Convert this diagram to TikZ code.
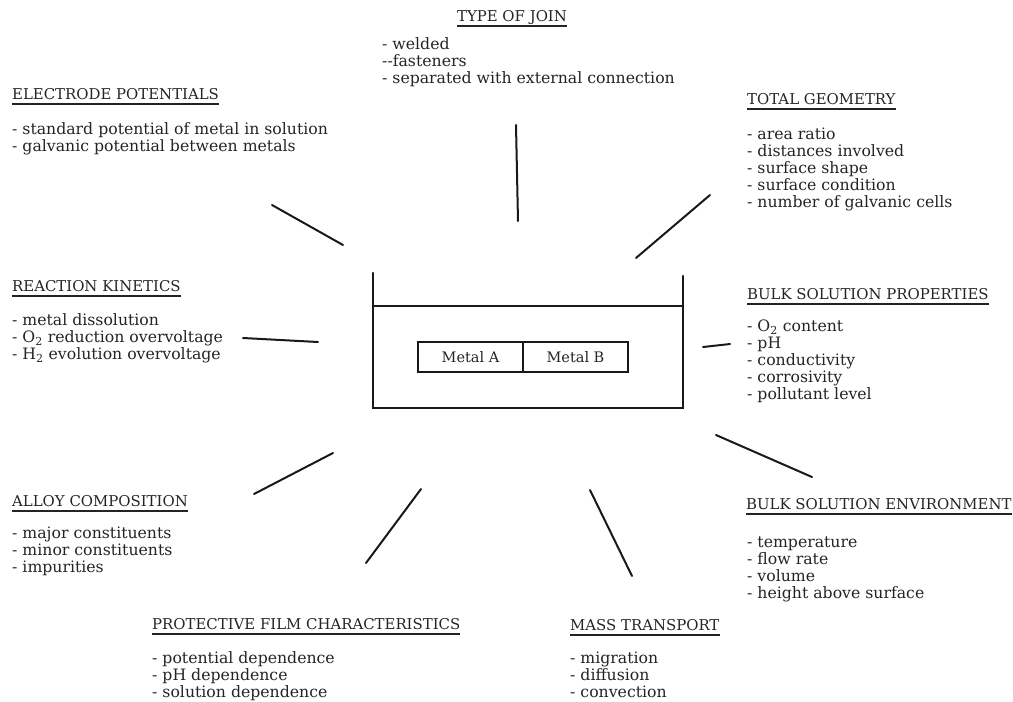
\documentclass[tikz,border=0pt]{standalone}
\usepackage{fontspec}
\setmainfont{DejaVu Serif}
\usetikzlibrary{calc}
\definecolor{ink}{HTML}{242424}
\newcommand{\headfnt}{\fontsize{14.9}{16}\selectfont}
\newcommand{\itemfnt}{\fontsize{15.7}{17}\selectfont}
\tikzset{
  head/.style={anchor=base west, inner sep=0pt, font=\headfnt, text=ink},
  items/.style={anchor=base west, inner sep=0pt, align=left, font=\itemfnt, text=ink},
  conn/.style={line width=2pt, line cap=round, draw=black!90},
  uline/.style={line width=1.3pt, draw=ink},
  wall/.style={line width=2.2pt, line cap=round, draw=black!90},
  metal/.style={draw=black!90, line width=2.2pt, minimum width=105pt, minimum height=30pt, inner sep=0pt, font=\fontsize{14.5}{17}\selectfont, text=ink}
}
\newcommand{\uln}[1]{\draw[uline] ($(#1.base west)+(0,5)$) -- ($(#1.base east)+(0,5)$);}
\begin{document}
\begin{tikzpicture}[x=1pt,y=-1pt]
\useasboundingbox (0,0) rectangle (1013,702);
% headings
\node[head, anchor=base] (hjoin) at (512,21) {TYPE OF JOIN};
\node[head] (helec) at (12,99) {ELECTRODE POTENTIALS};
\node[head] (hgeom) at (747,104) {TOTAL GEOMETRY};
\node[head] (hkin) at (12,291) {REACTION KINETICS};
\node[head] (hprop) at (747,299) {BULK SOLUTION PROPERTIES};
\node[head] (halloy) at (12,506) {ALLOY COMPOSITION};
\node[head] (henv) at (746,509) {BULK SOLUTION ENVIRONMENT};
\node[head] (hfilm) at (152,629) {PROTECTIVE FILM CHARACTERISTICS};
\node[head] (hmass) at (570,630) {MASS TRANSPORT};
\foreach \h in {hjoin,helec,hgeom,hkin,hprop,halloy,henv,hfilm,hmass}{\uln{\h}}
% item lists (anchor = baseline of the last line)
\node[items] (ijoin) at (382,49+34) {- welded\\-{}-fasteners\\- separated with external connection};
\node[items] (ielec) at (12,134+17) {- standard potential of metal in solution\\- galvanic potential between metals};
\node[items] (igeom) at (747,139+68) {- area ratio\\- distances involved\\- surface shape\\- surface condition\\- number of galvanic cells};
\node[items] (ikin) at (12,325+34) {- metal dissolution\\- O\textsubscript{2} reduction overvoltage\\- H\textsubscript{2} evolution overvoltage};
\node[items] (iprop) at (747,331+68) {- O\textsubscript{2} content\\- pH\\- conductivity\\- corrosivity\\- pollutant level};
\node[items] (ialloy) at (12,538+34) {- major constituents\\- minor constituents\\- impurities};
\node[items] (ienv) at (747,547+51) {- temperature\\- flow rate\\- volume\\- height above surface};
\node[items] (ifilm) at (152,664+33) {- potential dependence\\- pH dependence\\- solution dependence};
\node[items] (imass) at (570,665+32) {- migration\\- diffusion\\- convection};
% beaker
\coordinate (tl) at (373,273);
\coordinate (tr) at (683,276);
\coordinate (bl) at (373,408);
\coordinate (br) at (683,408);
\coordinate (wl) at (373,306);
\coordinate (wr) at (683,306);
\draw[wall] (tl) -- (bl) -- (br) -- (tr);
\draw[wall] (wl) -- (wr);
\node[metal] (ma) at (470.5,357) {Metal A};
\node[metal] (mb) at (575.5,357) {Metal B};
% connectors
\coordinate (c1a) at (516,125); \coordinate (c1b) at (518,221);
\coordinate (c2a) at (272,205); \coordinate (c2b) at (343,245);
\coordinate (c3a) at (710,195); \coordinate (c3b) at (636,258);
\coordinate (c4a) at (243,338); \coordinate (c4b) at (318,342);
\coordinate (c5a) at (703,347); \coordinate (c5b) at (730,344);
\coordinate (c6a) at (716,435); \coordinate (c6b) at (812,477);
\coordinate (c7a) at (254,494); \coordinate (c7b) at (333,453);
\coordinate (c8a) at (366,563); \coordinate (c8b) at (421,489);
\coordinate (c9a) at (590,490); \coordinate (c9b) at (632,576);
\foreach \i in {1,...,9}{\draw[conn] (c\i a) -- (c\i b);}
\end{tikzpicture}
\end{document}
